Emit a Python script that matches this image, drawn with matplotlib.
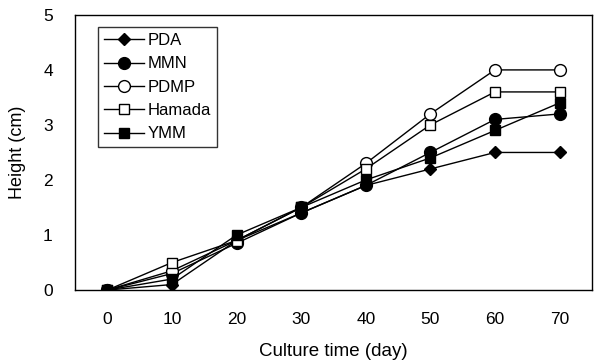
import matplotlib
matplotlib.use("Agg")
import matplotlib.pyplot as plt

days = [0, 10, 20, 30, 40, 50, 60, 70]
pda = [0, 0.1, 0.9, 1.4, 1.9, 2.2, 2.5, 2.5]
mmn = [0, 0.3, 0.85, 1.4, 1.9, 2.5, 3.1, 3.2]
pdmp = [0, 0.35, 0.9, 1.5, 2.3, 3.2, 4.0, 4.0]
hamada = [0, 0.5, 0.9, 1.5, 2.2, 3.0, 3.6, 3.6]
ymm = [0, 0.2, 1.0, 1.5, 2.0, 2.4, 2.9, 3.4]

plt.rcParams['font.family'] = ['Liberation Sans', 'DejaVu Sans']

fig = plt.figure(figsize=(5.96, 3.63), dpi=100)
ax = fig.add_axes([0.126, 0.201, 0.867, 0.758])

lw = 1.0
ax.plot(days, pda, color='black', lw=lw, marker='D', ms=6.5, mfc='black', mec='black', label='PDA')
ax.plot(days, mmn, color='black', lw=lw, marker='o', ms=8.5, mfc='black', mec='black', label='MMN')
ax.plot(days, pdmp, color='black', lw=lw, marker='o', ms=8.5, mfc='white', mec='black', label='PDMP')
ax.plot(days, hamada, color='black', lw=lw, marker='s', ms=7, mfc='white', mec='black', label='Hamada')
ax.plot(days, ymm, color='black', lw=lw, marker='s', ms=6.5, mfc='black', mec='black', label='YMM')

ax.set_xlim(-5, 75)
ax.set_ylim(0, 5)
ax.set_xticks(days)
ax.set_yticks([0, 1, 2, 3, 4, 5])
ax.tick_params(length=0, labelsize=12.5, pad=16)
for s in ax.spines.values():
    s.set_linewidth(1.0)

ax.set_xlabel('Culture time (day)', fontsize=13.5, labelpad=11)
ax.set_ylabel('Height (cm)', fontsize=13, labelpad=12)

leg = ax.legend(loc='upper left', bbox_to_anchor=(0.045, 0.955), frameon=True, fancybox=False,
                edgecolor='black', fontsize=12, handlelength=2.4, handletextpad=0.2,
                labelspacing=0.5, borderpad=0.35, borderaxespad=0)
leg.get_frame().set_linewidth(1.0)

fig.savefig('out.png', dpi=100)
